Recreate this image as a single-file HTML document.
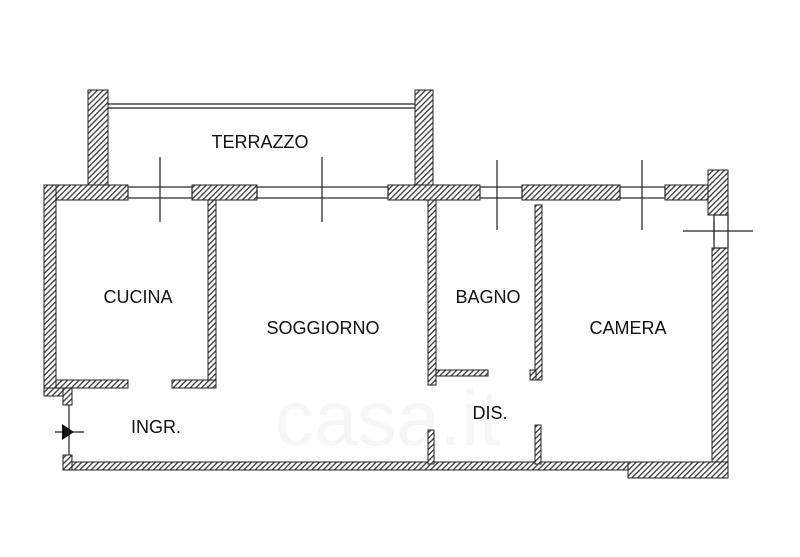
<!DOCTYPE html>
<html><head><meta charset="utf-8"><style>
html,body{margin:0;padding:0;background:#fff;width:800px;height:557px;overflow:hidden}
svg{display:block}
text{font-family:"Liberation Sans",sans-serif;font-size:18px;fill:#111}
</style></head><body>
<svg width="800" height="557" viewBox="0 0 800 557">
<defs>
<pattern id="h" width="4" height="4" patternUnits="userSpaceOnUse" patternTransform="rotate(45)">
<rect width="4" height="4" fill="#fff"/><rect width="1.4" height="4" fill="#444"/>
</pattern>
</defs>
<text x="0" y="0" style="font-size:78px;fill:#f6f6f6" transform="translate(275,445)">casa.it</text>
<g fill="url(#h)" stroke="#222" stroke-width="1">
<rect x="88" y="90" width="20" height="97"/>
<rect x="415" y="90" width="18" height="97"/>
<rect x="44" y="185" width="84" height="15"/>
<rect x="192" y="185" width="65" height="15"/>
<rect x="388" y="185" width="92" height="15"/>
<rect x="522" y="185" width="98" height="15"/>
<rect x="665" y="185" width="48" height="15"/>
<rect x="708" y="170" width="20" height="45"/>
<rect x="44" y="185" width="12" height="210"/>
<rect x="44" y="388" width="28" height="8"/>
<rect x="63" y="388" width="9" height="17"/>
<rect x="63" y="455" width="9" height="15"/>
<rect x="712" y="248" width="16" height="230"/>
<rect x="72" y="462" width="640" height="8"/>
<rect x="628" y="462" width="100" height="16"/>
<rect x="208" y="200" width="8" height="188"/>
<rect x="56" y="380" width="72" height="8"/>
<rect x="172" y="380" width="44" height="8"/>
<rect x="428" y="200" width="8" height="185"/>
<rect x="436" y="370" width="52" height="6"/>
<rect x="535" y="205" width="7" height="175"/>
<rect x="530" y="370" width="6" height="10"/>
<rect x="428" y="430" width="6" height="34"/>
<rect x="535" y="425" width="6" height="39"/>
</g>
<g stroke="#222" stroke-width="1.2" fill="none">
<line x1="108" y1="104" x2="415" y2="104"/>
<line x1="108" y1="108" x2="415" y2="108"/>
<rect x="128" y="187" width="64" height="11"/>
<rect x="257" y="187" width="131" height="11"/>
<rect x="480" y="187" width="42" height="11"/>
<rect x="620" y="187" width="45" height="11"/>
<rect x="714" y="215" width="14" height="33"/>
<line x1="69" y1="405" x2="69" y2="455"/>
<line x1="160" y1="157" x2="160" y2="222"/>
<line x1="322" y1="157" x2="322" y2="222"/>
<line x1="497" y1="160" x2="497" y2="230"/>
<line x1="642" y1="160" x2="642" y2="230"/>
<line x1="683" y1="231" x2="753" y2="231"/>
<line x1="714" y1="222" x2="714" y2="240"/>
<line x1="55" y1="432" x2="84" y2="432"/>
</g>
<polygon points="62,424 74,432 62,440" fill="#111"/>
<text x="260" y="148" text-anchor="middle">TERRAZZO</text>
<text x="138" y="303" text-anchor="middle">CUCINA</text>
<text x="323" y="334" text-anchor="middle">SOGGIORNO</text>
<text x="488" y="303" text-anchor="middle">BAGNO</text>
<text x="628" y="334" text-anchor="middle">CAMERA</text>
<text x="490" y="419" text-anchor="middle">DIS.</text>
<text x="156" y="433" text-anchor="middle">INGR.</text>
</svg>
</body></html>
